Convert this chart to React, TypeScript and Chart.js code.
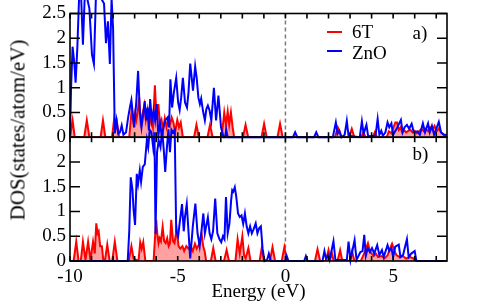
import React, { useEffect, useRef } from "react";
import { Chart, registerables } from "chart.js";
Chart.register(...registerables);

// ---------- data (energies in eV, DOS in states/atom/eV) ----------
const xTickLabels = [-10, -5, 0, 5];
const yTickLabelsTop = [0, 0.5, 1, 1.5, 2, 2.5];
const yTickLabelsBottom = [0, 0.5, 1, 1.5, 2];

// panel a) 6T
const a6T_E = [-10, -9.98, -9.88, -9.78, -9.34, -9.22, -9.1, -8.58, -8.47, -8.36, -8.05, -7.95, -7.88, -7.82, -7.72,
  -7.25, -7.14, -7.06, -6.98, -6.92, -6.86, -6.79, -6.72, -6.64, -6.55, -6.48, -6.4, -6.32, -6.24, -6.15, -6.06,
  -5.98, -5.9, -5.82, -5.75, -5.68, -5.6, -5.52, -5.44, -5.36, -5.28, -5.2, -5.12, -5.02, -4.94, -4.86, -4.76,
  -4.24, -4.13, -4.02, -3.62, -3.5, -3.38, -2.96, -2.84, -2.76, -2.68, -2.61, -2.53, -2.45, -2.38,
  -1.97, -1.85, -1.73, -1.11, -0.99, -0.87, -0.37, -0.25, -0.13,
  2.3, 2.43, 2.52, 2.6, 2.95, 3.08, 3.2, 3.52, 3.62, 3.72, 4.05, 4.15, 4.25, 4.7, 4.8, 4.92, 5.02, 5.1, 5.18,
  5.26, 5.34, 5.42, 5.5, 5.6, 5.7, 5.8, 5.9, 6.0, 6.1, 6.2, 6.32, 6.42, 6.52, 6.62, 6.72, 6.82, 6.92, 7.02,
  7.12, 7.22, 7.35, 7.5];
const a6T_DOS = [0, 0, 0.34, 0, 0, 0.34, 0, 0, 0.34, 0, 0, 0.37, 0.2, 0.3, 0,
  0, 0.55, 0.3, 0.5, 0.35, 0.5, 0.8, 0.3, 0.45, 0.65, 0.35, 0.55, 0.25, 0.4, 0.2, 1.05,
  0.35, 0.67, 0.25, 0.35, 0.15, 0.38, 0.2, 0.35, 0.25, 0.4, 0.3, 0.1, 0.35, 0.2, 0.3, 0,
  0, 0.25, 0, 0, 0.25, 0, 0, 0.5, 0.25, 0.52, 0.25, 0.5, 0.2, 0,
  0, 0.25, 0, 0, 0.27, 0, 0, 0.27, 0,
  0, 0.2, 0.12, 0, 0, 0.17, 0, 0, 0.1, 0, 0, 0.1, 0, 0, 0.12, 0.08, 0.2, 0.3, 0.3,
  0.15, 0.2, 0.1, 0.15, 0.1, 0.13, 0.15, 0.1, 0.13, 0.08, 0.12, 0.17, 0.12, 0.17, 0.12, 0.2, 0.15, 0.23, 0.12,
  0.18, 0.1, 0.05, 0];

// panel a) ZnO
const aZnO_E = [-10, -9.95, -9.88, -9.8, -9.74, -9.66, -9.58, -9.48, -9.4, -9.32, -9.2, -9.1, -8.98, -8.89, -8.8,
  -8.7, -8.55, -8.42, -8.33, -8.24, -8.15, -8.07, -8.0, -7.92, -7.84, -7.76, -7.68, -7.6, -7.52, -7.4, -7.3,
  -7.22, -7.15, -7.02, -6.92, -6.84, -6.76, -6.68, -6.6, -6.53, -6.47, -6.4, -6.34, -6.28, -6.2, -6.12, -6.05,
  -5.98, -5.9, -5.82, -5.74, -5.66, -5.58, -5.47, -5.4, -5.34, -5.26, -5.18, -5.07, -4.98, -4.91, -4.84, -4.76,
  -4.66, -4.57, -4.5, -4.42, -4.35, -4.29, -4.19, -4.12, -4.04, -3.97, -3.91, -3.83, -3.74, -3.67, -3.6, -3.52,
  -3.44, -3.32, -3.22, -3.11, -2.99, -2.87, -2.8, -2.75, -2.68, 0.35, 0.45, 0.55, 1.33, 1.43, 1.53,
  2.2, 2.34, 2.42, 2.5, 2.6, 2.75, 2.85, 2.93, 3.45, 3.55, 3.63, 3.7, 3.76, 3.84, 4.18, 4.28, 4.36, 4.45, 4.52,
  4.64, 4.74, 4.82, 4.92, 5.0, 5.16, 5.36, 5.44, 5.53, 5.64, 5.74, 5.86, 5.96, 6.12, 6.24, 6.38, 6.48, 6.62,
  6.7, 6.8, 6.9, 7.12, 7.22, 7.35, 7.5];
const aZnO_DOS = [0, 1.0, 1.83, 1.5, 1.1, 1.8, 2.8, 2.8, 1.87, 2.8, 2.8, 2.6, 1.67, 1.48, 2.8,
  2.8, 2.8, 2.7, 1.9, 2.34, 1.48, 2.8, 2.2, 0.08, 0.34, 0.07, 0.1, 0.24, 0.05, 0.1, 0.4,
  0.6, 0.75, 0.2, 0.73, 1.34, 0.54, 0.2, 0.46, 0.73, 0.34, 0.6, 0.14, 0.77, 0.34, 0.54, 0.34,
  0.67, 0.04, 0.27, 0.03, 0.2, 0.34, 0.4, 0.2, 1.17, 0.6, 0.9, 1.2, 0.7, 0.55, 0.8, 1.2,
  0.7, 0.6, 0.9, 1.49, 1.2, 0.94, 1.43, 1.2, 0.8, 0.67, 0.78, 0.54, 0.34, 0.57, 0.64, 0.54,
  0.34, 1.0, 0.34, 0.84, 0.2, 0, 0, 0.15, 0, 0, 0.1, 0, 0, 0.1, 0,
  0, 0.3, 0.07, 0.13, 0, 0.05, 0.33, 0.03, 0, 0.32, 0.07, 0.17, 0.25, 0.02, 0.03, 0.37, 0.05, 0.13, 0.03,
  0.1, 0.3, 0.2, 0.28, 0.05, 0.17, 0.35, 0.1, 0.2, 0.25, 0.17, 0.27, 0.1, 0.12, 0.05, 0.28, 0.1, 0.28,
  0.1, 0.23, 0.05, 0.31, 0.1, 0.05, 0.05];

// panel b) 6T
const b6T_E = [-10, -9.83, -9.71, -9.6, -9.5, -9.4, -9.28, -9.16, -9.05, -8.93, -8.85, -8.78, -8.72, -8.67, -8.6,
  -8.52, -8.45, -8.38, -8.27, -8.16, -8.04, -7.92, -7.8, -7.27, -7.15, -7.05, -6.82, -6.74, -6.67, -6.6, -6.5,
  -6.12, -6.05, -6.0, -5.95, -5.89, -5.84, -5.78, -5.7, -5.63, -5.56, -5.49, -5.42, -5.36, -5.3, -5.22, -5.15,
  -5.05, -4.96, -4.88, -4.78, -4.7, -4.6, -4.5, -4.4, -4.3, -4.2, -4.12, -4.05, -3.97, -3.89, -3.82, -3.75,
  -3.68, -3.46, -3.35, -3.24, -2.85, -2.73, -2.62, -2.32, -2.22, -2.12, -2.0, -1.92, -1.85, -1.72, -1.62,
  -1.2, -1.1, -1.0, -0.72, -0.6, -0.48, -0.17, -0.05, 0.07, 1.37, 1.49, 1.61, 1.88, 2.0, 2.08, 2.16, 2.24,
  2.42, 2.54, 2.64, 2.97, 3.09, 3.2, 3.5, 3.6, 3.7, 3.83, 3.92, 4.0, 4.1, 4.2, 4.3, 4.45, 4.6, 4.75, 4.85,
  4.95, 5.05, 5.15, 5.3, 5.45, 5.6, 5.8, 5.95, 6.05, 7.3];
const b6T_DOS = [0, 0, 0.39, 0, 0, 0.39, 0.02, 0.39, 0.02, 0.39, 0.15, 0.76, 0.56, 0.6, 0.3,
  0.3, 0, 0, 0.33, 0, 0, 0.39, 0, 0, 0.3, 0.05, 0, 0.38, 0.25, 0.38, 0,
  0, 0.5, 0.83, 0.56, 0.36, 0.46, 0.4, 0.69, 0.4, 0.36, 0.46, 0.3, 0.36, 0.83, 0.4, 0.36,
  0.64, 0.3, 0.25, 0.3, 0.2, 0.3, 0.25, 0.3, 0.2, 0.35, 0.25, 0.3, 0.4, 0.55, 0.3, 0.2,
  0, 0, 0.26, 0, 0, 0.22, 0, 0, 0.44, 0.15, 0.5, 0.12, 0.05, 0.26, 0,
  0, 0.26, 0, 0, 0.28, 0, 0, 0.28, 0, 0, 0.24, 0, 0, 0.22, 0.05, 0.15, 0,
  0, 0.22, 0, 0, 0.2, 0, 0, 0.1, 0.2, 0.36, 0.2, 0.15, 0.1, 0.15, 0.08, 0.1, 0.05, 0.12, 0.25,
  0.35, 0.22, 0.12, 0.08, 0.1, 0.05, 0.08, 0.05, 0, 0];

// panel b) ZnO
const bZnO_E = [-10, -7.32, -7.25, -7.18, -7.1, -7.05, -6.98, -6.9, -6.84, -6.76, -6.7, -6.62, -6.53, -6.43, -6.37,
  -6.3, -6.22, -6.14, -6.08, -6.03, -5.96, -5.88, -5.8, -5.72, -5.64, -5.58, -5.5, -5.43, -5.36, -5.29, -5.22,
  -5.14, -5.07, -4.98, -4.9, -4.8, -4.72, -4.66, -4.58, -4.5, -4.42, -4.3, -4.18, -4.08, -3.98, -3.9, -3.81,
  -3.74, -3.68, -3.6, -3.52, -3.44, -3.36, -3.26, -3.16, -3.06, -2.98, -2.9, -2.83, -2.76, -2.68, -2.6, -2.52,
  -2.47, -2.42, -2.35, -2.28, -2.2, -2.12, -2.04, -1.96, -1.88, -1.8, -1.72, -1.64, -1.56, -1.48, -1.38, -1.3,
  -1.22, -1.14, -1.06, -0.97, -0.85, -0.77, -0.68, 0.0, 0.06, 0.14, 0.87, 0.95, 1.03, 1.72, 1.81, 1.88, 1.97,
  2.05, 2.23, 2.32, 2.85, 2.93, 3.02, 3.21, 3.3, 3.48, 3.58, 3.66, 3.73, 3.82, 3.92, 4.02, 4.12, 4.26, 4.36,
  4.48, 4.56, 4.74, 4.82, 4.92, 5.0, 5.1, 5.26, 5.34, 5.46, 5.64, 5.72, 5.84, 6.0, 6.08, 7.3];
const bZnO_DOS = [0, 0, 0.6, 1.69, 1.44, 1.04, 0.73, 1.76, 1.56, 1.83, 1.6, 1.9, 1.95, 2.45, 2.3,
  2.65, 2.6, 2.3, 2.6, 0.55, 2.2, 2.43, 2.3, 2.65, 2.2, 1.8, 2.3, 2.66, 2.2, 2.65, 2.6,
  2.65, 0.6, 0.5, 0.8, 1.15, 0.6, 0.9, 1.15, 0.6, 0.05, 0.7, 1.16, 0.56, 0.3, 0.6, 0.96,
  0.56, 0.7, 0.88, 0.56, 0.44, 0.6, 1.26, 0.56, 0.44, 0.38, 0.5, 0.44, 1.29, 0.56, 0.75, 1.23,
  1.43, 1.4, 1.49, 1.29, 0.96, 0.89, 0.92, 0.75, 0.96, 0.7, 0.56, 0.7, 0.56, 0.64, 0.76, 0.56,
  0.66, 0.7, 0.25, 0, 0.02, 0.15, 0, 0, 0.1, 0, 0, 0.1, 0, 0, 0.2, 0.05, 0.12,
  0.02, 0.4, 0.02, 0.02, 0.39, 0.02, 0.42, 0.02, 0.18, 0.2, 0.53, 0.1, 0.26, 0.18, 0.26, 0.15, 0.32, 0.12,
  0.22, 0.08, 0.32, 0.2, 0.26, 0.08, 0.29, 0.33, 0.08, 0.12, 0.44, 0.08, 0.15, 0.2, 0, 0];

const seriesNames = ["6T", "ZnO"];
const panelLabels = ["a)", "b)"];

// ---------- styling ----------
const FONT = '"Liberation Serif", "Times New Roman", Times, serif';
const RED = "#ff0000";
const BLUE = "#0000ff";
const RED_FILL = "rgba(255, 30, 30, 0.42)";

const toPoints = (xs: number[], ys: number[]) => xs.map((x, i) => ({ x, y: ys[i] }));

const framePlugin = {
  id: "frameTicks",
  beforeDatasetsDraw(chart: any) {
    const { ctx } = chart;
    const xs = chart.scales.x;
    const yT = chart.scales.yTop;
    const yB = chart.scales.yBot;
    const px = xs.getPixelForValue(0);
    ctx.save();
    ctx.strokeStyle = "#7a7a7a";
    ctx.lineWidth = 1.5;
    ctx.setLineDash([4, 3]);
    ctx.beginPath();
    ctx.moveTo(px, yT.top);
    ctx.lineTo(px, yB.bottom);
    ctx.stroke();
    ctx.restore();
  },
  afterDatasetsDraw(chart: any) {
    const { ctx, chartArea } = chart;
    const xs = chart.scales.x;
    const panels = [chart.scales.yTop, chart.scales.yBot];
    ctx.save();
    ctx.strokeStyle = "#000";
    ctx.lineWidth = 1.6;
    ctx.setLineDash([]);
    for (const ys of panels) {
      ctx.strokeRect(chartArea.left, ys.top, chartArea.right - chartArea.left, ys.bottom - ys.top);
      ctx.beginPath();
      for (const t of ys.ticks) {
        const py = ys.getPixelForValue(t.value);
        ctx.moveTo(chartArea.left, py);
        ctx.lineTo(chartArea.left + 10, py);
        ctx.moveTo(chartArea.right, py);
        ctx.lineTo(chartArea.right - 10, py);
      }
      for (let v = Math.ceil(xs.min); v <= Math.floor(xs.max); v++) {
        const p = xs.getPixelForValue(v);
        ctx.moveTo(p, ys.top);
        ctx.lineTo(p, ys.top + 5);
        ctx.moveTo(p, ys.bottom);
        ctx.lineTo(p, ys.bottom - 5);
      }
      ctx.stroke();
    }
    ctx.restore();
  },
};

export default function App() {
  const ref = useRef<HTMLCanvasElement | null>(null);

  useEffect(() => {
    if (!ref.current) return;
    const tickFont = { family: FONT, size: 19, lineHeight: 1 };
    const yCommon = (labels: number[]) => ({
      type: "linear" as const,
      position: "left" as const,
      stack: "panels",
      stackWeight: 1,
      min: 0,
      max: 2.5,
      grid: { display: false, drawTicks: false },
      border: { display: false },
      ticks: {
        stepSize: 0.5,
        autoSkip: false,
        color: "#000",
        font: tickFont,
        padding: 4,
        callback: (v: any) => (labels.includes(Number(v)) ? String(v) : ""),
      },
      afterFit: (s: any) => {
        s.width = 70;
      },
    });

    const chart = new Chart(ref.current, {
      type: "line",
      data: {
        datasets: [
          {
            label: seriesNames[1],
            data: toPoints(aZnO_E, aZnO_DOS),
            yAxisID: "yTop",
            borderColor: BLUE,
            borderWidth: 2,
            pointRadius: 0,
            fill: false,
            clip: false as any,
            order: 0,
          },
          {
            label: seriesNames[0],
            data: toPoints(a6T_E, a6T_DOS),
            yAxisID: "yTop",
            borderColor: RED,
            backgroundColor: RED_FILL,
            borderWidth: 2,
            pointRadius: 0,
            fill: "origin",
            order: 1,
          },
          {
            label: seriesNames[1],
            data: toPoints(bZnO_E, bZnO_DOS),
            yAxisID: "yBot",
            borderColor: BLUE,
            borderWidth: 2,
            pointRadius: 0,
            fill: false,
            clip: false as any,
            order: 0,
          },
          {
            label: seriesNames[0],
            data: toPoints(b6T_E, b6T_DOS),
            yAxisID: "yBot",
            borderColor: RED,
            backgroundColor: RED_FILL,
            borderWidth: 2,
            pointRadius: 0,
            fill: "origin",
            order: 1,
          },
        ],
      },
      options: {
        animation: false,
        responsive: false,
        events: [],
        layout: { padding: { left: 0, right: 38, top: 10.5, bottom: 0 } },
        plugins: { legend: { display: false }, tooltip: { enabled: false } },
        scales: {
          x: {
            type: "linear",
            min: -10,
            max: 7.5,
            grid: { display: false, drawTicks: false },
            border: { display: false },
            ticks: {
              stepSize: 5,
              includeBounds: false,
              autoSkip: false,
              maxRotation: 0,
              color: "#000",
              font: tickFont,
              padding: 7,
              callback: (v: any) => (xTickLabels.includes(Number(v)) ? String(v) : ""),
            },
            title: {
              display: true,
              text: "Energy (eV)",
              color: "#000",
              font: { family: FONT, size: 19, lineHeight: 1 },
              padding: { top: 3, bottom: 3 },
            },
            afterFit: (s: any) => {
              s.height = 44;
            },
          },
          yBot: yCommon(yTickLabelsBottom) as any,
          yTop: yCommon(yTickLabelsTop) as any,
        },
      },
      plugins: [framePlugin],
    });
    return () => chart.destroy();
  }, []);

  const txt: React.CSSProperties = {
    position: "absolute",
    fontFamily: FONT,
    fontSize: 19,
    lineHeight: "19px",
    color: "#000",
    whiteSpace: "nowrap",
  };

  return (
    <div style={{ position: "absolute", left: 0, top: 0, width: 485, height: 305, background: "#fff", overflow: "hidden" }}>
      <canvas ref={ref} width={485} height={305} style={{ position: "absolute", left: 0, top: 0 }} />
      <div
        style={{
          ...txt,
          fontSize: 21,
          lineHeight: "21px",
          left: 17.5,
          top: 130,
          transform: "translate(-50%, -50%) rotate(-90deg)",
        }}
      >
        DOS(states/atom/eV)
      </div>
      <div style={{ position: "absolute", left: 327, top: 31, width: 15, height: 2.2, background: RED }} />
      <div style={{ ...txt, left: 352, top: 21.5 }}>{seriesNames[0]}</div>
      <div style={{ position: "absolute", left: 327, top: 50, width: 15, height: 2.2, background: BLUE }} />
      <div style={{ ...txt, left: 352, top: 42.5 }}>{seriesNames[1]}</div>
      <div style={{ ...txt, left: 412.5, top: 22.5 }}>{panelLabels[0]}</div>
      <div style={{ ...txt, left: 412.5, top: 144 }}>{panelLabels[1]}</div>
    </div>
  );
}
